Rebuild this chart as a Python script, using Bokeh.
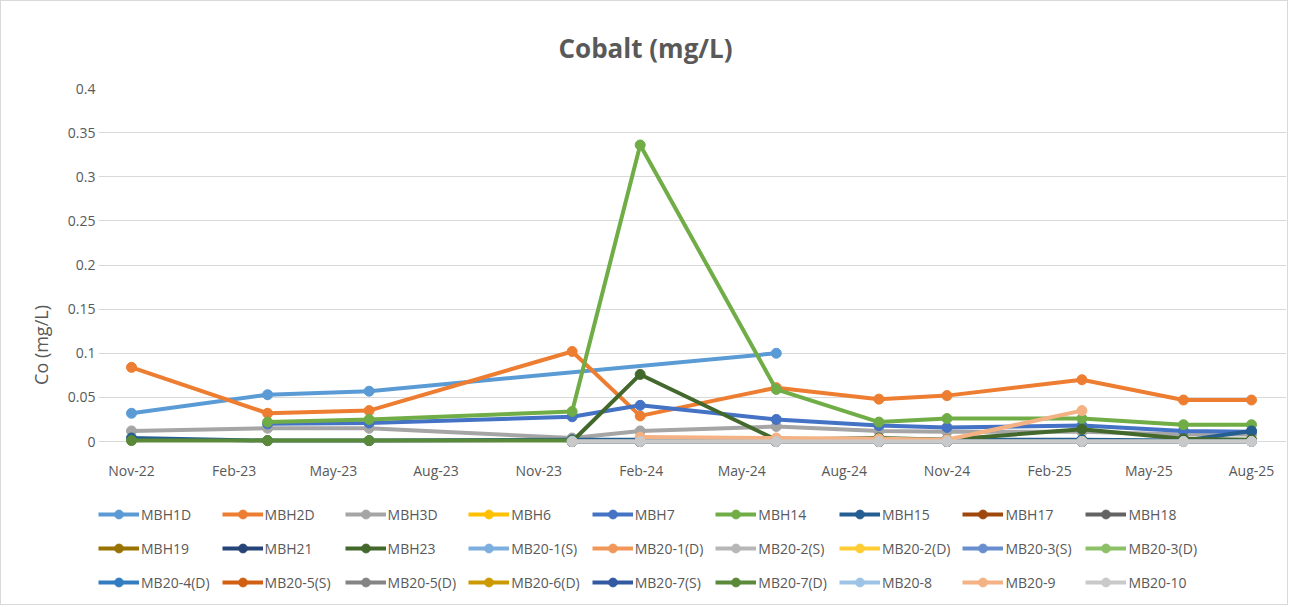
import pandas as pd
from bokeh.plotting import figure
from bokeh.models import Range1d, FixedTicker, Legend, LegendItem
from bokeh.embed import file_html
from bokeh.resources import INLINE

# ---------------- data ----------------
SAMPLE_DATES = ["2022-11-01", "2023-03-03", "2023-06-02", "2023-12-01", "2024-01-31",
                "2024-06-01", "2024-09-01", "2024-11-01", "2025-03-02", "2025-06-01",
                "2025-08-01"]

X_TICK_LABELS = ["Nov-22", "Feb-23", "May-23", "Aug-23", "Nov-23", "Feb-24",
                 "May-24", "Aug-24", "Nov-24", "Feb-25", "May-25", "Aug-25"]
Y_TICKS = [0, 0.05, 0.1, 0.15, 0.2, 0.25, 0.3, 0.35, 0.4]
Y_TICK_LABELS = ["0", "0.05", "0.1", "0.15", "0.2", "0.25", "0.3", "0.35", "0.4"]

N = None
MBH1D = [0.032, 0.053, 0.057, N, N, 0.100, N, N, N, N, N]
MBH2D = [0.084, 0.032, 0.035, 0.102, 0.029, 0.061, 0.048, 0.052, 0.070, 0.047, 0.047]
MBH3D = [0.012, 0.015, 0.015, 0.004, 0.012, 0.017, 0.012, 0.011, 0.011, 0.008, 0.008]
MBH6 = [N, N, N, 0.0, 0.0, 0.0, 0.0, 0.0, 0.0, 0.0, 0.0]
MBH7 = [N, 0.020, 0.021, 0.028, 0.041, 0.025, 0.018, 0.016, 0.018, 0.012, 0.011]
MBH14 = [N, 0.022, 0.025, 0.034, 0.336, 0.059, 0.022, 0.026, 0.026, 0.019, 0.019]
MBH15 = [0.004, 0.001, 0.001, 0.002, 0.002, 0.002, 0.002, 0.002, 0.002, 0.001, 0.012]
MBH17 = [N, N, N, 0.0, 0.0, 0.0, 0.0, 0.0, 0.0, 0.0, 0.0]
MBH18 = [N, N, N, 0.0, 0.0, 0.0, 0.0, 0.0, 0.0, 0.0, 0.0]
MBH19 = [N, N, N, 0.0, 0.0, 0.0, 0.0, 0.0, 0.0, 0.0, 0.0]
MBH21 = [N, N, N, 0.0, 0.0, 0.0, 0.0, 0.0, 0.0, 0.0, 0.0]
MBH23 = [N, N, N, 0.0, 0.076, 0.002, 0.004, 0.002, 0.014, 0.003, 0.002]
MB20_1S = [N, N, N, 0.0, 0.0, 0.0, 0.0, 0.0, 0.0, 0.0, 0.0]
MB20_1D = [N, N, N, 0.0, 0.0, 0.0, 0.0, 0.0, 0.0, 0.0, 0.0]
MB20_2S = [N, N, N, 0.0, 0.0, 0.0, 0.0, 0.0, 0.0, 0.0, 0.0]
MB20_2D = [N, N, N, 0.0, 0.0, 0.0, 0.0, 0.0, 0.0, 0.0, 0.0]
MB20_3S = [N, N, N, 0.0, 0.0, 0.0, 0.0, 0.0, 0.0, 0.0, 0.0]
MB20_3D = [N, N, N, 0.0, 0.0, 0.0, 0.0, 0.0, 0.0, 0.0, 0.0]
MB20_4D = [N, N, N, 0.0, 0.0, 0.0, 0.0, 0.0, 0.0, 0.0, 0.0]
MB20_5S = [N, N, N, 0.0, 0.0, 0.0, 0.0, 0.0, 0.0, 0.0, 0.0]
MB20_5D = [N, N, N, 0.0, 0.0, 0.0, 0.0, 0.0, 0.0, 0.0, 0.0]
MB20_6D = [N, N, N, 0.0, 0.0, 0.0, 0.0, 0.0, 0.0, 0.0, 0.0]
MB20_7S = [N, N, N, 0.0, 0.0, 0.0, 0.0, 0.0, 0.0, 0.0, 0.0]
MB20_7D = [0.001, 0.001, 0.001, 0.001, N, N, N, N, N, N, N]
MB20_8 = [N, N, N, 0.0, 0.0, 0.0, 0.0, 0.0, 0.0, 0.0, 0.0]
MB20_9 = [N, N, N, N, 0.005, 0.004, 0.003, 0.002, 0.035, N, N]
MB20_10 = [N, N, N, 0.0, 0.0, 0.0, 0.0, 0.0, 0.0, 0.0, 0.0]

SERIES_NAMES = ["MBH1D", "MBH2D", "MBH3D", "MBH6", "MBH7", "MBH14", "MBH15", "MBH17", "MBH18",
                "MBH19", "MBH21", "MBH23", "MB20-1(S)", "MB20-1(D)", "MB20-2(S)", "MB20-2(D)",
                "MB20-3(S)", "MB20-3(D)", "MB20-4(D)", "MB20-5(S)", "MB20-5(D)", "MB20-6(D)",
                "MB20-7(S)", "MB20-7(D)", "MB20-8", "MB20-9", "MB20-10"]
SERIES_VALUES = [MBH1D, MBH2D, MBH3D, MBH6, MBH7, MBH14, MBH15, MBH17, MBH18,
                 MBH19, MBH21, MBH23, MB20_1S, MB20_1D, MB20_2S, MB20_2D,
                 MB20_3S, MB20_3D, MB20_4D, MB20_5S, MB20_5D, MB20_6D,
                 MB20_7S, MB20_7D, MB20_8, MB20_9, MB20_10]
COLORS = ["#5B9BD5", "#ED7D31", "#A5A5A5", "#FFC000", "#4472C4", "#70AD47", "#255E91",
          "#9E480E", "#636363", "#997300", "#264478", "#43682B", "#7CAFDD", "#F1975A",
          "#B7B7B7", "#FFCD33", "#698ED0", "#8CC168", "#327DC2", "#D26012", "#848484",
          "#CC9A00", "#335AA1", "#5A8A39", "#9DC3E6", "#F4B183", "#C9C9C9"]

# ---------------- figure ----------------
FONT = "Open Sans"
TXT = "#595959"

dates = pd.to_datetime(SAMPLE_DATES)
tick_dates = pd.to_datetime(X_TICK_LABELS, format="%b-%y")
tick_ms = [float(t.value // 10**6) for t in tick_dates]

x_start = pd.Timestamp("2022-10-02 10:00")
x_end = pd.Timestamp("2025-09-01 09:00")
grid_start = pd.Timestamp("2022-10-16 18:00")
grid_end = pd.Timestamp("2025-08-16 06:00")

p = figure(width=1288, height=605, x_axis_type="datetime",
           output_backend="svg", toolbar_location=None,
           x_range=Range1d(x_start, x_end),
           y_range=Range1d(-0.1813, 0.4),
           min_border_left=97, min_border_right=3, min_border_top=87, min_border_bottom=5)
p.outline_line_color = None
p.background_fill_color = "white"
p.border_fill_color = "white"

p.title.text = "Cobalt (mg/L)"
p.title.align = "left"
p.title.offset = 460
p.title.standoff = 46
p.title.text_font = FONT
p.title.text_font_size = "26px"
p.title.text_font_style = "bold"
p.title.text_color = TXT

p.xgrid.visible = False
p.ygrid.ticker = FixedTicker(ticks=Y_TICKS)
p.ygrid.grid_line_color = "#D9D9D9"
p.ygrid.grid_line_width = 1
p.ygrid.bounds = (grid_start.value / 1e6, grid_end.value / 1e6)

xa = p.xaxis[0]
xa.fixed_location = 0
xa.ticker = FixedTicker(ticks=tick_ms)
xa.major_label_overrides = {ms: lab for ms, lab in zip(tick_ms, X_TICK_LABELS)}
xa.axis_line_color = None
xa.major_tick_line_color = None
xa.minor_tick_line_color = None
xa.major_label_standoff = 13
xa.major_label_text_font = FONT
xa.major_label_text_font_size = "14px"
xa.major_label_text_color = TXT

ya = p.yaxis[0]
ya.ticker = FixedTicker(ticks=Y_TICKS)
ya.major_label_overrides = {v: lab for v, lab in zip(Y_TICKS, Y_TICK_LABELS)}
ya.axis_line_color = None
ya.major_tick_line_color = None
ya.minor_tick_line_color = None
ya.major_label_standoff = -3
ya.major_label_text_font = FONT
ya.major_label_text_font_size = "14px"
ya.major_label_text_color = TXT
ya.axis_label = "Co (mg/L)"
ya.axis_label_text_font = FONT
ya.axis_label_text_font_size = "18px"
ya.axis_label_text_font_style = "normal"
ya.axis_label_text_color = TXT
ya.axis_label_standoff = 12

items = []
for name, vals, col in zip(SERIES_NAMES, SERIES_VALUES, COLORS):
    xs = [d for d, v in zip(dates, vals) if v is not None]
    ys = [v for v in vals if v is not None]
    r1 = p.line(xs, ys, line_color=col, line_width=4)
    r2 = p.scatter(xs, ys, marker="circle", size=10, fill_color=col, line_color=col)
    items.append(LegendItem(label=name, renderers=[r1, r2]))

legend = Legend(items=items, orientation="horizontal", ncols=9,
                location=(0, 8), margin=0, padding=0, spacing=12,
                glyph_width=41, glyph_height=22, label_height=22, label_width=68,
                label_standoff=2, label_text_font=FONT, label_text_font_size="14px",
                label_text_color=TXT, border_line_color=None, background_fill_alpha=0)
p.add_layout(legend, "center")

p.styles = {"border": "1px solid #D9D9D9", "box-sizing": "border-box"}

open("out.html", "w").write(file_html(p, INLINE))
